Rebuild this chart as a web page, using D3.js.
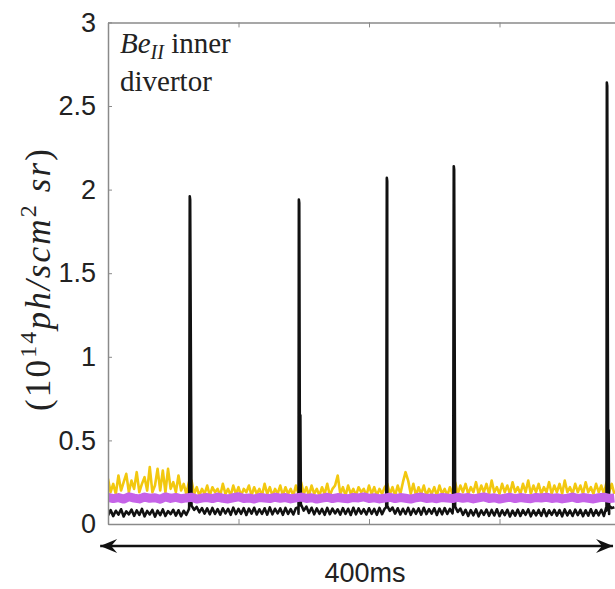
<!DOCTYPE html>
<html>
<head>
<meta charset="utf-8">
<script src="https://cdn.jsdelivr.net/npm/d3@7"></script>
<style>
  body { margin: 0; background: #fff; }
  svg { display: block; }
  .tick text { font-family: "Liberation Sans", Arial, sans-serif; }
</style>
</head>
<body>
<script>
// sampled signals (10^14 ph/scm^2 sr); sample spacing in ms
const yellowStep = 2;
const yellow = [
  0.27,0.19,0.24,0.18,0.29,0.20,0.25,0.30,0.19,0.26,0.21,0.31,0.19,0.24,0.28,0.20,
  0.34,0.19,0.23,0.33,0.20,0.32,0.19,0.33,0.21,0.25,0.19,0.29,0.20,0.24,0.18,0.25,
  0.26,0.18,0.22,0.17,0.21,0.18,0.23,0.17,0.22,0.19,0.21,0.17,0.24,0.18,0.21,0.17,
  0.23,0.18,0.22,0.17,0.21,0.19,0.23,0.17,0.22,0.18,0.21,0.17,0.24,0.18,0.22,0.17,
  0.21,0.18,0.23,0.17,0.22,0.18,0.21,0.17,0.23,0.18,
  0.25,0.18,0.22,0.17,0.23,0.18,0.21,0.17,0.22,0.18,0.24,0.17,0.21,0.23,0.29,0.18,
  0.22,0.17,0.23,0.18,0.21,0.17,0.22,0.19,0.21,0.17,0.23,0.18,0.22,0.17,0.21,0.18,
  0.22,
  0.24,0.18,0.22,0.17,0.23,0.18,0.25,0.31,0.26,0.18,0.24,0.17,0.22,0.18,0.23,0.17,
  0.21,0.18,0.22,0.17,0.23,0.18,0.21,0.17,0.22,0.18,
  0.25,0.18,0.23,0.19,0.24,0.18,0.22,0.19,0.25,0.18,0.23,0.19,0.24,0.18,0.26,0.19,
  0.22,0.18,0.24,0.19,0.23,0.18,0.25,0.19,0.22,0.18,0.24,0.19,0.26,0.18,0.23,0.19,
  0.24,0.18,0.22,0.19,0.25,0.18,0.23,0.19,0.24,0.18,0.26,0.19,0.22,0.18,0.24,0.19,
  0.23,0.18,0.25,0.19,0.22,0.18,0.24,0.19,0.23,0.18,0.25,0.19,0.24,0.18
];

const blackStep = 2;
const blackBase = [
  0.052,0.083,0.047,0.079,0.056,0.088,0.045,0.076,0.058,0.086,0.049,0.081,0.054,0.090,0.046,0.078,
  0.057,0.084,0.044,0.080,0.053,0.087,0.048,0.077,0.059,0.085,0.050,0.082,0.046,0.079,0.055,0.088,
  0.110,0.085,0.102,0.070,0.095,0.062,0.093,0.058,0.096,0.060,0.089,0.056,0.094,0.063,0.091,0.055,
  0.098,0.059,0.090,0.061,0.095,0.054,0.092,0.062,0.097,0.057,0.088,0.060,0.094,0.056,0.099,0.058,
  0.091,0.063,0.093,0.055,0.096,0.060,0.089,0.057,0.095,0.062,
  0.115,0.080,0.104,0.066,0.097,0.058,0.093,0.061,0.090,0.055,0.096,0.059,0.092,0.063,0.088,0.056,
  0.095,0.060,0.091,0.054,0.097,0.058,0.093,0.062,0.089,0.057,0.094,0.061,0.090,0.055,0.096,0.059,
  0.092,
  0.108,0.078,0.098,0.062,0.094,0.057,0.091,0.060,0.096,0.055,0.090,0.061,0.093,0.056,0.097,0.059,
  0.089,0.062,0.094,0.054,0.092,0.058,0.095,0.060,0.090,0.063,
  0.105,0.072,0.092,0.055,0.085,0.048,0.083,0.052,0.087,0.046,0.081,0.054,0.086,0.049,0.084,0.051,
  0.088,0.047,0.082,0.053,0.085,0.045,0.080,0.050,0.086,0.048,0.083,0.055,0.087,0.046,0.081,0.052,
  0.084,0.049,0.088,0.047,0.082,0.054,0.085,0.050,0.083,0.046,0.087,0.051,0.081,0.048,0.086,0.053,
  0.084,0.047,0.082,0.050,0.088,0.049,0.083,0.052,0.085,0.048,
  0.080,0.060,0.095,0.100
];
// ELM-like bursts on the black trace
const spikeTimes = [62.8, 146.4, 213.8, 265.1, 382.4];
const spikePeaks = [1.96, 1.94, 2.07, 2.14, 2.64];
const echoTimes = [147.4, 383.6];
const echoPeaks = [0.65, 0.56];

const purpleStep = 4;
const purple = [
  0.160,0.152,0.158,0.149,0.163,0.155,0.150,0.161,0.154,0.157,0.148,0.162,0.153,0.159,0.151,0.156,
  0.160,0.149,0.155,0.158,0.152,0.161,0.154,0.150,0.157,0.163,0.153,0.156,0.149,0.159,0.155,0.152,
  0.160,0.154,0.158,0.150,0.156,0.161,0.153,0.157,0.149,0.155,0.160,0.152,0.158,0.154,0.151,0.159,
  0.156,0.162,0.153,0.157,0.150,0.155,0.160,0.152,0.158,0.154,0.149,0.157,0.161,0.153,0.156,0.151,
  0.159,0.155,0.152,0.160,0.154,0.158,0.150,0.156,0.162,0.153,0.157,0.149,0.155,0.160,0.152,0.158,
  0.154,0.151,0.159,0.156,0.160,0.153,0.157,0.150,0.155,0.161,0.152,0.158,0.154,0.150,0.157,0.160,
  0.153,0.156
];

const yTicks = [0, 0.5, 1, 1.5, 2, 2.5, 3];
const xTicks = [0, 100, 200, 300, 400];
const arrowRange = [-6, 387];   // ms covered by the scale arrow
const arrowLabel = "400ms";

const width = 615, height = 589;
const plot = {left: 108, top: 22.4, bottom: 524, right: 630};

const x = d3.scaleLinear().domain([0, 400]).range([plot.left, plot.right]);
const y = d3.scaleLinear().domain([0, 3]).range([plot.bottom, plot.top]);

const svg = d3.select("body").append("svg")
    .attr("width", width)
    .attr("height", height);

const defs = svg.append("defs");
defs.append("clipPath").attr("id", "clip")
    .append("rect")
    .attr("x", plot.left).attr("y", 0)
    .attr("width", width - plot.left).attr("height", plot.bottom);

const line = d3.line().x(d => x(d.t)).y(d => y(d.v));

// black series = baseline samples + burst points
var blackPts = blackBase.map((v, i) => ({t: i * blackStep, v: v}));
spikeTimes.forEach((t, i) => {
    blackPts.push({t: t - 0.6, v: 0.1});
    blackPts.push({t: t - 0.15, v: spikePeaks[i]});
    blackPts.push({t: t + 0.15, v: spikePeaks[i] - 0.02});
});
echoTimes.forEach((t, i) => {
    blackPts.push({t: t - 0.3, v: 0.12});
    blackPts.push({t: t, v: echoPeaks[i]});
    blackPts.push({t: t + 0.4, v: 0.11});
});
blackPts.sort((a, b) => a.t - b.t);

const g = svg.append("g").attr("clip-path", "url(#clip)");

g.append("path")
    .datum(yellow.map((v, i) => ({t: i * yellowStep, v: v})))
    .attr("d", line)
    .attr("fill", "none")
    .attr("stroke", "#f2c80f")
    .attr("stroke-width", 2.6)
    .attr("stroke-linejoin", "round");

g.append("path")
    .datum(blackPts)
    .attr("d", line)
    .attr("fill", "none")
    .attr("stroke", "#111")
    .attr("stroke-width", 2.6)
    .attr("stroke-linejoin", "round");

g.append("path")
    .datum(purple.map((v, i) => ({t: i * purpleStep, v: v})))
    .attr("d", line)
    .attr("fill", "none")
    .attr("stroke", "#c663e8")
    .attr("stroke-width", 9)
    .attr("stroke-linejoin", "round");

// frame / axes
const frameColor = "#8a8a8a";
const yAxis = svg.append("g")
    .attr("transform", "translate(" + plot.left + ",0)")
    .call(d3.axisLeft(y).tickValues(yTicks).tickFormat(d => d)
        .tickSizeInner(-4).tickSizeOuter(0).tickPadding(12));
yAxis.selectAll("text").attr("font-size", 27).attr("fill", "#222");

const xAxis = svg.append("g")
    .attr("transform", "translate(0," + plot.bottom + ")")
    .call(d3.axisBottom(x).tickValues(xTicks).tickFormat("")
        .tickSizeInner(-5).tickSizeOuter(0));

const topAxis = svg.append("g")
    .attr("transform", "translate(0," + plot.top + ")")
    .call(d3.axisTop(x).tickValues(xTicks).tickFormat("")
        .tickSizeInner(-5).tickSizeOuter(0));

[yAxis, xAxis, topAxis].forEach(a => {
    a.select(".domain").attr("stroke", frameColor).attr("stroke-width", 1.5);
    a.selectAll(".tick line").attr("stroke", frameColor);
});

// y label
const ylab = svg.append("text")
    .attr("transform", "translate(50,280) rotate(-90)")
    .attr("text-anchor", "middle")
    .attr("font-family", "'Liberation Serif', 'DejaVu Serif', serif")
    .attr("font-size", 35)
    .attr("fill", "#222")
    .attr("textLength", 262)
    .attr("lengthAdjust", "spacing");
ylab.append("tspan").text("(10");
ylab.append("tspan").attr("font-size", 24).attr("dy", -14).text("14");
ylab.append("tspan").attr("font-style", "italic").attr("dy", 14).text("ph/scm");
ylab.append("tspan").attr("font-size", 24).attr("dy", -14).text("2");
ylab.append("tspan").attr("font-style", "italic").attr("dy", 14).text(" sr");
ylab.append("tspan").text(")");

// species label
const title = svg.append("text")
    .attr("x", 120).attr("y", 53)
    .attr("font-family", "'Liberation Serif', 'DejaVu Serif', serif")
    .attr("font-size", 29)
    .attr("fill", "#222");
title.append("tspan").attr("font-style", "italic").text("Be");
title.append("tspan").attr("font-style", "italic").attr("font-size", 20).attr("dy", 6).text("II");
title.append("tspan").attr("dy", -6).text(" inner");
svg.append("text")
    .attr("x", 120).attr("y", 91)
    .attr("font-family", "'Liberation Serif', 'DejaVu Serif', serif")
    .attr("font-size", 29)
    .attr("fill", "#222")
    .text("divertor");

// time-scale arrow
defs.append("marker").attr("id", "head")
    .attr("viewBox", "-18 -8 20 16")
    .attr("refX", 0).attr("refY", 0)
    .attr("markerWidth", 20).attr("markerHeight", 16)
    .attr("markerUnits", "userSpaceOnUse")
    .attr("orient", "auto-start-reverse")
    .append("path")
    .attr("d", "M0,0L-17,-7L-11,0L-17,7Z")
    .attr("fill", "#111");

svg.append("line")
    .attr("x1", x(arrowRange[0])).attr("x2", x(arrowRange[1]))
    .attr("y1", 546).attr("y2", 546)
    .attr("stroke", "#111").attr("stroke-width", 2.5)
    .attr("marker-start", "url(#head)")
    .attr("marker-end", "url(#head)");

svg.append("text")
    .attr("x", 365)
    .attr("y", 582)
    .attr("text-anchor", "middle")
    .attr("font-family", "'Liberation Sans', Arial, sans-serif")
    .attr("font-size", 27)
    .attr("fill", "#222")
    .text(arrowLabel);
</script>
</body>
</html>
